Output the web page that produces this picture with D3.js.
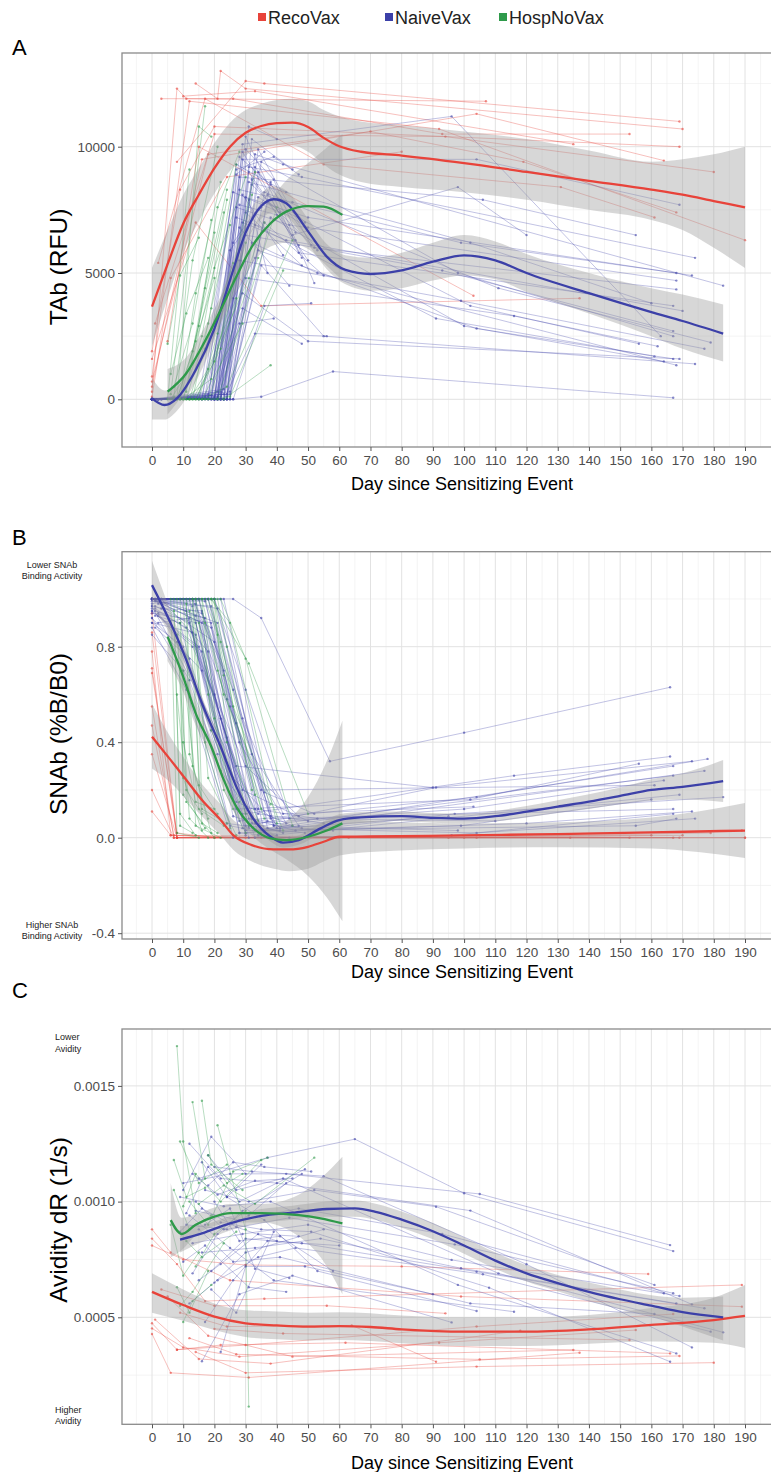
<!DOCTYPE html>
<html>
<head>
<meta charset="utf-8">
<script src="https://cdn.jsdelivr.net/npm/d3@7"></script>
<style>
  body { margin: 0; background: #fff; }
  text { font-family: "Liberation Sans", Arial, sans-serif; }
</style>
</head>
<body>
<svg id="chart" width="771" height="1472"></svg>
<script>
// groups and colours
const groups = ["RecoVax", "NaiveVax", "HospNoVax"];
const groupColors = ["#E8433A", "#3C40A8", "#2E9A4A"];
const dayTicks = [0, 10, 20, 30, 40, 50, 60, 70, 80, 90, 100, 110, 120, 130, 140, 150, 160, 170, 180, 190];

// ---------- Panel A : TAb (RFU) ----------
const tabTicks = [0, 5000, 10000];
const tabMinor = [-2500, 2500, 7500, 12500];

const tabReco = [
  [[0,1900],[9,8300],[20,10800],[169,10000]],
  [[0,300],[8,12300],[11,11900],[107,11800]],
  [[8,9400],[30,12600],[36,12500],[169,11000]],
  [[14,12500],[21,11900],[22,13000],[30,12300],[170,10700]],
  [[3,11900],[26,11900],[93,10500],[153,10500]],
  [[10,12000],[33,12200],[135,10100]],
  [[0,900],[12,11800],[92,10700],[190,6300]],
  [[0,500],[16,9500],[104,11300],[164,9450]],
  [[1,3000],[20,10500],[94,10400],[180,9000]],
  [[0,1600],[14,7000],[35,3700],[137,4000]],
  [[0,700],[18,9700],[70,10600],[119,9400],[168,7400]],
  [[2,5400],[17,11900],[55,9300],[131,8400],[161,7200]],
  [[0,100],[6,4800],[24,8800],[80,9800]],
  [[5,2300],[15,10000],[103,4100]]
];
const tabNaive = [
  [[0,0],[21,100],[29,10100],[96,11200],[163,2500]],
  [[1,0],[22,200],[29,9500],[104,9500],[169,7700]],
  [[0,50],[20,0],[28,8800],[106,7900],[155,6500]],
  [[2,0],[21,300],[31,9200],[48,8800],[174,5600]],
  [[0,0],[18,100],[28,8300],[45,7800],[99,6200],[168,5000]],
  [[3,0],[20,0],[30,8000],[50,7200],[173,4900]],
  [[0,0],[22,0],[33,9700],[42,9300],[183,4500]],
  [[1,0],[19,150],[27,7600],[44,6900],[168,4700]],
  [[0,0],[23,400],[32,8500],[52,6000],[168,4350]],
  [[2,0],[24,200],[34,9000],[47,5800],[167,3700]],
  [[0,0],[21,0],[29,7000],[43,6300],[170,3500]],
  [[0,0],[22,100],[31,8600],[102,6200],[160,3800]],
  [[1,0],[20,50],[30,6500],[93,5100],[167,2700]],
  [[0,0],[23,0],[35,9400],[98,5000],[167,2500]],
  [[3,0],[25,300],[36,8200],[111,4400],[179,2250]],
  [[0,0],[21,0],[28,5500],[99,3900],[177,2000]],
  [[2,0],[24,100],[37,7800],[102,3700],[156,2200]],
  [[0,0],[20,0],[30,4800],[116,3300],[162,2100]],
  [[1,0],[22,0],[33,6900],[91,3200],[161,1700]],
  [[0,0],[25,200],[38,7200],[100,2900],[164,1500]],
  [[2,0],[23,0],[34,5900],[104,2800],[167,1600]],
  [[0,0],[21,50],[32,6200],[53,5000],[168,1350]],
  [[1,0],[24,0],[35,5300],[55,2500],[174,1400]],
  [[0,0],[22,0],[29,4200],[50,2300],[169,1600]],
  [[0,0],[20,0],[26,0],[35,100],[58,1100],[167,60]],
  [[0,0],[18,0],[29,9800],[45,6500],[98,8400],[120,6500]],
  [[1,0],[20,0],[30,10400],[48,5600]],
  [[0,0],[22,300],[31,9000],[50,5500]],
  [[2,0],[23,0],[32,8700],[47,6100]],
  [[0,0],[21,0],[33,9200],[53,5900]],
  [[0,0],[19,0],[27,7200],[46,6300]],
  [[1,0],[24,0],[34,9900],[51,6100]],
  [[0,0],[17,0],[28,6800],[44,4500]],
  [[0,0],[22,0],[36,7000],[55,4900]],
  [[2,0],[25,0],[38,8600],[52,4600]],
  [[0,0],[20,0],[29,3600],[48,2200]],
  [[1,0],[23,0],[33,2600],[56,2500]],
  [[0,0],[26,0],[36,3700],[51,3800]],
  [[0,0],[16,0],[27,9100],[39,9600],[47,8900]],
  [[1,0],[24,0],[31,10800],[40,10300]],
  [[0,0],[15,0],[26,8200],[41,7400]],
  [[2,0],[17,100],[27,9300],[43,8200]],
  [[0,0],[19,0],[28,9600],[38,8500],[49,7000]],
  [[1,0],[18,200],[26,6200],[37,8100]],
  [[0,0],[21,0],[27,8900],[36,9800]],
  [[3,0],[23,0],[30,9900],[39,8700],[46,6600]],
  [[0,0],[20,100],[28,7700],[40,7300]],
  [[1,0],[24,0],[32,10300],[45,9100]],
  [[0,0],[16,0],[25,5900],[35,7600]],
  [[2,0],[22,0],[29,8100],[42,5700]],
  [[0,0],[25,0],[34,8000],[50,6800]],
  [[1,0],[19,0],[30,7400],[48,5300]],
  [[0,0],[23,200],[31,7900],[37,5000]],
  [[0,0],[18,0],[26,4000],[33,5600]],
  [[2,0],[21,0],[28,3000],[39,3200]]
];
const tabHosp = [
  [[5,0],[12,9100]],
  [[6,200],[17,11600]],
  [[8,0],[15,10800],[19,10400]],
  [[7,100],[13,5500],[21,10000]],
  [[9,0],[14,4200],[22,8600]],
  [[10,0],[16,2500],[24,7900]],
  [[6,0],[12,1200],[20,6600]],
  [[11,0],[18,3000],[27,9300]],
  [[8,0],[13,1900],[23,7400]],
  [[12,0],[17,2000],[26,5400]],
  [[13,0],[20,1500],[30,6200]],
  [[10,0],[19,800],[32,8100]],
  [[14,0],[22,2000],[36,7000]],
  [[15,0],[23,0],[38,1350]],
  [[16,0],[24,500],[45,6300]],
  [[12,0],[21,0],[40,7600]],
  [[9,0],[18,0],[34,5600]],
  [[11,0],[16,0],[29,3000]],
  [[7,0],[14,0],[31,4800]],
  [[17,0],[25,100],[42,5100]],
  [[5,2200],[9,4900],[15,6400]],
  [[6,1000],[11,3400],[18,5600]],
  [[9,0],[15,2900],[21,7600],[28,9800]],
  [[11,300],[17,4400],[24,8300]],
  [[13,0],[19,3600],[25,6900]],
  [[8,0],[14,2300],[20,4800]],
  [[12,0],[18,1200],[27,4000]],
  [[15,0],[21,2600],[33,9000]],
  [[10,0],[20,5200],[30,8800]],
  [[7,500],[13,3000],[19,7100]]
];
// smooth fits: [day, fit, lower, upper]
const tabFitReco = [
  [0,3670,2100,5200],[5,5350,4000,6700],[10,6950,5800,8100],[15,8100,7050,9150],
  [20,9150,8150,10150],[25,10000,9050,10950],[30,10550,9650,11450],[35,10820,9950,11700],
  [40,10930,10050,11850],[45,10950,10050,11900],[50,10780,9800,11800],[55,10350,9300,11450],
  [60,10020,8900,11200],[67,9800,8600,11000],[80,9650,8400,10850],[100,9350,8200,10600],
  [120,9000,7900,10300],[140,8650,7500,9850],[160,8300,7100,9400],[170,8100,6700,9500],
  [180,7850,6000,9700],[190,7600,5200,10000]
];
const tabFitNaive = [
  [0,40,-800,850],[4,-225,-800,350],[8,40,-450,530],[14,1160,700,1620],[20,2800,2350,3250],
  [25,4720,4280,5160],[30,6600,6150,7050],[35,7650,7150,8150],[39,7920,7400,8440],
  [43,7760,7250,8270],[50,6650,6150,7150],[56,5650,5150,6150],[62,5120,4550,5700],
  [70,4960,4300,5600],[80,5100,4400,5800],[90,5450,4700,6200],[100,5700,4900,6500],
  [110,5500,4750,6250],[120,5000,4250,5750],[140,4200,3400,5000],[160,3450,2500,4400],
  [170,3100,2000,4150],[183,2600,1500,3750]
];
const tabFitHosp = [
  [5,300,-600,1200],[11,1030,400,1660],[16,2080,1500,2660],[22,3540,3000,4080],
  [27,4850,4250,5450],[32,6040,5350,6730],[38,6970,6050,7890],[43,7430,6200,8660],
  [50,7650,5950,9350],[55,7630,5400,9860],[61,7300,4700,10500]
];

// ---------- Panel B : SNAb (%B/B0) ----------
const snabTicks = [-0.4, 0, 0.4, 0.8];
const snabMinor = [-0.2, 0.2, 0.6, 1.0];

const snabReco = [
  [[0,0.86],[8,0.0],[40,0.0],[104,0.0],[169,0.0]],
  [[0,0.78],[6,0.01],[30,0.0],[134,0.0]],
  [[0,0.71],[8,0.0],[60,0.0],[190,0.0]],
  [[0,0.55],[7,0.0],[95,0.0],[179,0.02]],
  [[0,0.69],[8,0.02],[20,0.0],[105,0.01],[189,0.03]],
  [[0,0.11],[6,0.01],[35,0.0],[160,0.01]],
  [[0,0.94],[8,0.0],[50,0.0],[167,0.0]],
  [[0,0.47],[7,0.01],[100,0.0],[170,0.01]],
  [[0,0.35],[8,0.0],[28,0.0],[153,0.0]],
  [[0,0.2],[7,0.0],[63,0.0],[190,0.0]]
];
const snabNaive = [
  [[0,1.0],[26,1.0],[35,0.92],[57,0.32],[100,0.44],[166,0.63]],
  [[0,1.0],[12,1.0],[30,0.1],[116,0.26],[166,0.34]],
  [[1,0.95],[14,0.9],[31,0.05],[91,0.21],[173,0.32]],
  [[0,0.98],[11,1.0],[28,0.07],[104,0.17],[178,0.33]],
  [[2,0.93],[15,0.8],[33,0.03],[167,0.3]],
  [[0,1.0],[10,1.0],[27,0.12],[102,0.16],[156,0.31]],
  [[0,0.9],[13,0.86],[30,0.02],[177,0.28]],
  [[3,0.96],[16,0.95],[32,0.06],[100,0.12],[164,0.24]],
  [[0,1.0],[18,1.0],[35,0.2],[161,0.22]],
  [[1,0.88],[12,0.75],[29,0.04],[167,0.26]],
  [[0,0.97],[17,0.92],[34,0.01],[97,0.1],[183,0.17]],
  [[2,1.0],[14,1.0],[31,0.0],[169,0.18]],
  [[0,0.94],[19,0.9],[36,0.03],[99,0.05],[160,0.16]],
  [[0,1.0],[20,1.0],[38,0.08],[167,0.12]],
  [[1,0.99],[13,0.97],[28,0.02],[120,0.06],[173,0.11]],
  [[0,0.92],[16,0.7],[33,0.0],[96,0.01],[167,0.1]],
  [[3,1.0],[22,1.0],[37,0.04],[104,0.02],[174,0.08]],
  [[0,1.0],[15,1.0],[30,0.03],[155,0.05],[168,0.08]],
  [[0,1.0],[13,1.0],[27,0.3],[90,0.21]],
  [[0,1.0],[11,0.95],[27,0.15],[45,0.05]],
  [[1,0.96],[14,0.85],[29,0.2],[50,0.07]],
  [[0,1.0],[17,1.0],[32,0.08],[48,0.04]],
  [[2,0.9],[12,0.92],[26,0.09],[42,0.02]],
  [[0,1.0],[19,0.88],[34,0.1],[55,0.06]],
  [[0,0.95],[13,0.8],[30,0.3],[47,0.09]],
  [[1,1.0],[21,0.96],[36,0.19],[52,0.1]],
  [[0,0.85],[10,0.7],[25,0.05],[40,0.01]],
  [[0,1.0],[16,0.9],[28,0.02],[44,0.0]],
  [[3,1.0],[18,0.78],[31,0.04],[49,0.02]],
  [[0,0.88],[11,0.62],[24,0.06],[41,0.03]],
  [[2,0.98],[23,1.0],[39,0.05],[58,0.03]],
  [[0,1.0],[14,0.98],[30,0.01]],
  [[1,0.93],[9,0.9],[26,0.0]],
  [[0,1.0],[20,0.82],[35,0.02]],
  [[0,0.97],[15,0.6],[33,0.12],[53,0.08]],
  [[0,1.0],[9,1.0],[22,0.5],[33,0.06]],
  [[1,0.97],[12,0.9],[24,0.42],[35,0.04]],
  [[0,1.0],[15,1.0],[25,0.55],[37,0.07]],
  [[2,0.94],[10,0.8],[21,0.35],[30,0.05]],
  [[0,1.0],[16,0.94],[26,0.62],[38,0.09]],
  [[0,0.9],[8,0.82],[19,0.45],[29,0.1]],
  [[1,1.0],[13,1.0],[23,0.7],[34,0.12]],
  [[0,0.96],[11,0.88],[20,0.6],[31,0.08],[46,0.03]],
  [[3,1.0],[17,0.99],[27,0.48],[40,0.04]],
  [[0,1.0],[18,1.0],[28,0.4],[43,0.06]],
  [[0,0.92],[12,0.66],[22,0.28],[36,0.02]],
  [[2,1.0],[14,0.93],[24,0.58],[39,0.05],[98,0.03]],
  [[0,0.99],[19,0.97],[29,0.5],[42,0.1],[103,0.13]],
  [[1,1.0],[20,1.0],[30,0.62],[44,0.08],[110,0.07]],
  [[0,1.0],[21,0.9],[32,0.35],[47,0.05]],
  [[0,0.95],[16,0.78],[26,0.25],[41,0.04],[95,0.09]]
];
const snabHosp = [
  [[6,1.0],[8,0.02],[15,0.0]],
  [[7,0.95],[9,0.1],[14,0.01]],
  [[8,1.0],[10,0.25],[16,0.03]],
  [[9,1.0],[11,0.15],[20,0.0]],
  [[10,1.0],[13,0.3],[19,0.02]],
  [[11,0.98],[14,0.05],[22,0.0]],
  [[12,1.0],[17,0.4],[25,0.04]],
  [[13,1.0],[18,0.25],[27,0.01]],
  [[14,1.0],[20,0.5],[31,0.05]],
  [[15,1.0],[21,0.7],[36,0.08]],
  [[16,1.0],[23,0.6],[38,0.14]],
  [[18,1.0],[22,0.82],[35,0.12]],
  [[19,1.0],[25,0.9],[40,0.06]],
  [[20,1.0],[26,0.55],[42,0.03]],
  [[21,1.0],[24,0.8],[33,0.18]],
  [[22,1.0],[30,0.75],[45,0.05]],
  [[17,0.9],[23,0.2],[30,0.02]],
  [[8,0.85],[12,0.08],[18,0.0]],
  [[10,0.7],[15,0.12],[23,0.05]],
  [[12,0.95],[16,0.06],[21,0.02]],
  [[19,1.0],[31,0.73],[50,0.1]],
  [[7,1.0],[9,0.05],[13,0.02]],
  [[9,0.9],[10,0.18],[17,0.04]],
  [[11,1.0],[12,0.35],[18,0.08]],
  [[13,1.0],[15,0.22],[21,0.1]],
  [[14,1.0],[16,0.12],[24,0.06]],
  [[15,0.9],[18,0.6],[26,0.12]],
  [[16,1.0],[19,0.45],[28,0.15]],
  [[17,1.0],[21,0.85],[32,0.2]],
  [[19,1.0],[23,0.68],[30,0.1]],
  [[20,1.0],[24,0.4],[34,0.07]],
  [[8,0.6],[11,0.2],[16,0.1]],
  [[10,0.4],[14,0.15],[20,0.12]]
];
const snabFitReco = [
  [0,0.423,0.29,0.56],[6,0.325,0.23,0.42],[11,0.242,0.16,0.32],[16,0.158,0.09,0.225],
  [22,0.074,0.01,0.14],[26,0.011,-0.05,0.075],[32,-0.031,-0.1,0.04],[39,-0.049,-0.13,0.035],
  [44,-0.049,-0.14,0.04],[50,-0.038,-0.13,0.05],[55,-0.017,-0.1,0.065],[60,0.004,-0.075,0.08],
  [70,0.005,-0.06,0.07],[100,0.01,-0.045,0.06],[130,0.015,-0.04,0.065],
  [160,0.022,-0.045,0.085],[175,0.026,-0.06,0.11],[190,0.03,-0.085,0.145]
];
const snabFitNaive = [
  [0,1.058,0.96,1.16],[6,0.898,0.85,0.946],[11,0.744,0.71,0.778],[16,0.563,0.535,0.591],
  [22,0.381,0.355,0.407],[27,0.214,0.19,0.238],[32,0.088,0.065,0.111],[38,0.004,-0.017,0.025],
  [42,-0.021,-0.041,-0.001],[47,-0.01,-0.03,0.01],[54,0.039,0.017,0.061],[60,0.074,0.05,0.098],
  [67,0.085,0.062,0.108],[80,0.09,0.07,0.11],[90,0.083,0.063,0.103],
  [100,0.08,0.06,0.1],[110,0.09,0.068,0.112],[120,0.109,0.085,0.133],[130,0.13,0.103,0.157],
  [140,0.151,0.12,0.182],[150,0.175,0.14,0.21],[160,0.2,0.155,0.245],[170,0.213,0.16,0.27],
  [183,0.237,0.15,0.325]
];
const snabFitHosp = [
  [5,0.842,0.74,0.94],[10,0.674,0.61,0.74],[14,0.521,0.47,0.57],[19,0.381,0.34,0.42],
  [23,0.242,0.2,0.284],[27,0.13,0.09,0.17],[32,0.046,0.01,0.085],[38,-0.003,-0.05,0.045],
  [43,-0.01,-0.09,0.07],[50,0.004,-0.16,0.17],[56,0.03,-0.25,0.32],[61,0.06,-0.35,0.49]
];

// ---------- Panel C : Avidity dR (1/s) ----------
const avidTicks = [0.0005, 0.0010, 0.0015];
const avidMinor = [0.00025, 0.00075, 0.00125];

const avidReco = [
  [[0,8.4e-4],[8,7.3e-4],[17,5.7e-4],[36,5.8e-4],[189,6.4e-4]],
  [[0,8.1e-4],[10,7.5e-4],[30,7.26e-4],[80,7.2e-4],[159,6.87e-4]],
  [[0,8.8e-4],[6,7.8e-4],[25,6.6e-4],[99,5.9e-4],[189,5.46e-4]],
  [[0,4.74e-4],[8,3.6e-4],[30,3.8e-4],[104,4.6e-4],[167,5.14e-4]],
  [[0,4.52e-4],[10,3.7e-4],[28,3.3e-4],[92,3.9e-4],[155,4.45e-4]],
  [[0,4.28e-4],[6,2.6e-4],[31,2.4e-4],[137,3.47e-4]],
  [[1,4.9e-4],[15,3.2e-4],[38,3.0e-4],[118,4.42e-4]],
  [[5,5.9e-4],[18,4.2e-4],[45,3.3e-4],[135,3.59e-4]],
  [[8,3.6e-4],[22,3.8e-4],[62,3.9e-4],[166,3.44e-4]],
  [[12,4.1e-4],[27,3.4e-4],[105,3.18e-4],[169,3.33e-4]],
  [[3,6.2e-4],[20,5.5e-4],[56,5.5e-4],[94,5.17e-4]],
  [[14,3.5e-4],[30,2.6e-4],[104,2.87e-4],[180,3.04e-4]],
  [[20,4.5e-4],[42,4.3e-4],[153,4.02e-4]],
  [[9,5.2e-4],[24,4.6e-4],[64,4.65e-4],[91,3.08e-4]]
];
const avidNaive = [
  [[15,1.10e-3],[37,1.19e-3],[65,1.27e-3],[100,1.036e-3],[167,7.86e-4]],
  [[10,1.08e-3],[25,1.12e-3],[43,1.12e-3],[105,1.033e-3],[166,8.12e-4]],
  [[12,1.25e-3],[22,1.1e-3],[40,1.08e-3],[102,9.61e-4],[173,5.56e-4]],
  [[17,1.05e-3],[31,1.0e-3],[52,1.05e-3],[91,9.78e-4],[161,6.4e-4]],
  [[14,9.6e-4],[28,9.2e-4],[47,9.7e-4],[93,8.6e-4],[164,6.04e-4]],
  [[11,9.0e-4],[24,8.8e-4],[44,9.3e-4],[97,8.15e-4],[167,6.04e-4]],
  [[13,8.2e-4],[29,8.6e-4],[50,9.0e-4],[96,7.48e-4],[169,5.92e-4]],
  [[16,7.8e-4],[33,8.0e-4],[54,8.4e-4],[99,7.12e-4],[168,5.6e-4]],
  [[19,7.0e-4],[30,8.4e-4],[48,8.2e-4],[104,6.97e-4],[177,5.39e-4]],
  [[21,6.6e-4],[34,7.6e-4],[46,8.0e-4],[106,6.86e-4],[179,4.38e-4]],
  [[18,1.2e-3],[27,1.05e-3],[42,1.1e-3],[111,6.9e-4],[183,4.35e-4]],
  [[20,1.15e-3],[32,1.13e-3],[55,1.11e-3],[120,7.29e-4],[173,3.7e-4]],
  [[9,1.02e-3],[23,9.8e-4],[38,1.0e-3],[98,6.4e-4],[168,3.44e-4]],
  [[22,9.1e-4],[35,8.8e-4],[51,8.7e-4],[108,6.28e-4],[166,3.08e-4]],
  [[15,8.8e-4],[26,7.4e-4],[41,7.6e-4],[102,5.6e-4],[161,5.14e-4]],
  [[24,1.02e-3],[36,9.2e-4],[53,7.0e-4],[104,5.27e-4]],
  [[12,9.4e-4],[25,8.0e-4],[39,6.6e-4],[116,5.24e-4]],
  [[16,3.1e-4],[28,6.0e-4],[45,6.8e-4],[96,4.78e-4]],
  [[22,3.5e-4],[30,7.2e-4],[49,7.2e-4],[90,6.0e-4]],
  [[17,4.8e-4],[26,6.6e-4],[37,8.3e-4],[60,8.1e-4]],
  [[10,1.05e-3],[19,1.28e-3],[30,1.12e-3]],
  [[13,1.12e-3],[21,1.03e-3],[33,1.09e-3],[45,1.1e-3]],
  [[11,9.5e-4],[18,1.15e-3],[28,1.0e-3],[49,1.14e-3]],
  [[14,1.0e-3],[23,8.8e-4],[31,9.4e-4],[43,1.08e-3]],
  [[9,8.7e-4],[16,9.7e-4],[27,8.9e-4],[40,8.3e-4]],
  [[15,6.6e-4],[22,7.3e-4],[34,8.6e-4],[47,8.5e-4]],
  [[12,5.6e-4],[20,6.5e-4],[30,7.8e-4],[55,8.8e-4]],
  [[18,1.07e-3],[26,1.17e-3],[36,1.15e-3],[51,1.13e-3]],
  [[20,1.0e-3],[28,8.3e-4],[41,8.5e-4],[58,7.0e-4]],
  [[16,1.17e-3],[24,1.02e-3],[35,1.16e-3]],
  [[17,9.0e-4],[25,9.7e-4],[33,7.1e-4],[44,6.7e-4]],
  [[13,6.9e-4],[21,8.6e-4],[29,9.6e-4],[48,1.12e-3]],
  [[19,6.2e-4],[27,5.2e-4],[39,8.7e-4]],
  [[10,7.4e-4],[17,8.1e-4],[31,6.3e-4],[43,6.1e-4]]
];
const avidHosp = [
  [[8,1.672e-3],[10,1.26e-3],[14,9.5e-4]],
  [[16,1.436e-3],[19,1.16e-3],[29,1.05e-3]],
  [[13,1.43e-3],[17,1.1e-3]],
  [[21,1.33e-3],[30,8.8e-4],[31,1.14e-4]],
  [[9,1.26e-3],[15,1.08e-3],[24,1.16e-3]],
  [[7,1.05e-3],[12,8.8e-4],[19,9.4e-4]],
  [[10,9.8e-4],[14,1.12e-3],[22,1.0e-3],[35,1.18e-3]],
  [[11,8.3e-4],[16,7.6e-4],[27,8.7e-4]],
  [[6,9.0e-4],[10,6.8e-4],[15,7.8e-4]],
  [[8,6.3e-4],[12,5.2e-4],[18,7.0e-4]],
  [[9,5.5e-4],[13,6.1e-4],[23,8.2e-4]],
  [[12,1.0e-3],[18,9.0e-4],[26,1.13e-3],[37,1.19e-3]],
  [[14,7.2e-4],[20,8.6e-4],[30,9.6e-4]],
  [[15,9.9e-4],[23,1.07e-3],[33,9.9e-4],[52,1.19e-3]],
  [[7,1.18e-3],[11,1.02e-3],[17,1.06e-3]],
  [[10,4.8e-4],[13,5.7e-4],[19,6.4e-4]],
  [[18,1.2e-3],[24,1.08e-3],[29,1.12e-3]]
];
const avidFitReco = [
  [0,6.1e-4,5.2e-4,6.9e-4],[10,5.53e-4,4.85e-4,6.2e-4],[20,5.03e-4,4.45e-4,5.6e-4],
  [30,4.74e-4,4.15e-4,5.3e-4],[40,4.65e-4,4.05e-4,5.25e-4],[50,4.6e-4,4.0e-4,5.2e-4],
  [60,4.62e-4,4.02e-4,5.22e-4],[70,4.58e-4,3.98e-4,5.18e-4],[80,4.48e-4,3.88e-4,5.08e-4],
  [100,4.38e-4,3.76e-4,5.0e-4],[120,4.38e-4,3.76e-4,5.0e-4],[140,4.48e-4,3.86e-4,5.1e-4],
  [160,4.67e-4,3.95e-4,5.4e-4],[180,4.88e-4,3.9e-4,5.85e-4],[190,5.06e-4,3.67e-4,6.4e-4]
];
const avidFitNaive = [
  [9,8.36e-4,7.8e-4,8.95e-4],[16,8.63e-4,8.25e-4,9.0e-4],[25,9.06e-4,8.75e-4,9.37e-4],
  [35,9.38e-4,9.08e-4,9.68e-4],[45,9.52e-4,9.22e-4,9.82e-4],[56,9.68e-4,9.35e-4,1.0e-3],
  [65,9.71e-4,9.35e-4,1.005e-3],[72,9.55e-4,9.2e-4,9.9e-4],
  [80,9.22e-4,8.87e-4,9.57e-4],[90,8.72e-4,8.37e-4,9.07e-4],[100,8.1e-4,7.75e-4,8.45e-4],
  [110,7.45e-4,7.1e-4,7.8e-4],[120,6.9e-4,6.55e-4,7.25e-4],[130,6.48e-4,6.13e-4,6.83e-4],
  [140,6.1e-4,5.7e-4,6.5e-4],[150,5.78e-4,5.35e-4,6.2e-4],[160,5.5e-4,5.05e-4,5.95e-4],
  [170,5.22e-4,4.6e-4,5.85e-4],[183,5.0e-4,4.0e-4,5.9e-4]
];
const avidFitHosp = [
  [6,9.2e-4,7.6e-4,1.08e-3],[9.5,8.6e-4,7.9e-4,9.3e-4],[14,9.0e-4,8.55e-4,9.45e-4],
  [20,9.35e-4,8.95e-4,9.75e-4],[25,9.5e-4,9.1e-4,9.9e-4],[35,9.5e-4,9.1e-4,9.9e-4],
  [47,9.42e-4,8.5e-4,1.03e-3],[54,9.28e-4,7.6e-4,1.1e-3],[61,9.06e-4,6.0e-4,1.194e-3]
];

const svg = d3.select("#chart");
const panelLeft = 122, panelRight = 803;

// shared x scale: day -> px
const x = d3.scaleLinear().domain([0, 190]).range([152, 745]);

function drawPanel(cfg) {
  const y = d3.scaleLinear().domain(cfg.yRef).range(cfg.yPix);
  const g = svg.append("g");

  const clipId = "clip" + cfg.letter;
  svg.append("clipPath").attr("id", clipId).append("rect")
    .attr("x", panelLeft).attr("y", cfg.top)
    .attr("width", panelRight - panelLeft).attr("height", cfg.bottom - cfg.top);

  const plot = g.append("g").attr("clip-path", "url(#" + clipId + ")");

  // grid
  plot.selectAll(".vminor").data(d3.range(-5, 206, 10)).enter().append("line")
    .attr("x1", d => x(d)).attr("x2", d => x(d))
    .attr("y1", cfg.top).attr("y2", cfg.bottom)
    .attr("stroke", "#EDEDED").attr("stroke-width", 0.6);
  plot.selectAll(".hminor").data(cfg.yMinor).enter().append("line")
    .attr("x1", panelLeft).attr("x2", panelRight)
    .attr("y1", d => y(d)).attr("y2", d => y(d))
    .attr("stroke", "#EDEDED").attr("stroke-width", 0.6);
  plot.selectAll(".vmajor").data(d3.range(0, 201, 10)).enter().append("line")
    .attr("x1", d => x(d)).attr("x2", d => x(d))
    .attr("y1", cfg.top).attr("y2", cfg.bottom)
    .attr("stroke", "#E2E2E2").attr("stroke-width", 1);
  plot.selectAll(".hmajor").data(cfg.yTicks).enter().append("line")
    .attr("x1", panelLeft).attr("x2", panelRight)
    .attr("y1", d => y(d)).attr("y2", d => y(d))
    .attr("stroke", "#E2E2E2").attr("stroke-width", 1);

  const line = d3.line().x(d => x(d[0])).y(d => y(d[1]));

  // subject trajectories
  cfg.subjects.forEach((subs, gi) => {
    const col = groupColors[gi];
    const sg = plot.append("g");
    sg.selectAll("path").data(subs).enter().append("path")
      .attr("d", line)
      .attr("fill", "none")
      .attr("stroke", col)
      .attr("stroke-opacity", gi === 1 ? 0.42 : 0.45)
      .attr("stroke-width", 0.75);
    sg.selectAll("circle").data(subs.flat()).enter().append("circle")
      .attr("cx", d => x(d[0])).attr("cy", d => y(d[1]))
      .attr("r", 1.2)
      .attr("fill", col).attr("fill-opacity", 0.6);
  });

  // confidence bands
  const area = d3.area().curve(d3.curveMonotoneX)
    .x(d => x(d[0])).y0(d => y(d[2])).y1(d => y(d[3]));
  cfg.fits.forEach(f => {
    plot.append("path").attr("d", area(f))
      .attr("fill", "#9A9A9A").attr("fill-opacity", 0.4);
  });

  // smooth lines
  const fitLine = d3.line().curve(d3.curveMonotoneX)
    .x(d => x(d[0])).y(d => y(d[1]));
  cfg.fits.forEach((f, gi) => {
    plot.append("path").attr("d", fitLine(f))
      .attr("fill", "none")
      .attr("stroke", groupColors[gi])
      .attr("stroke-width", 2.3);
  });

  // border
  g.append("rect")
    .attr("x", panelLeft).attr("y", cfg.top)
    .attr("width", panelRight - panelLeft).attr("height", cfg.bottom - cfg.top)
    .attr("fill", "none").attr("stroke", "#8A8A8A").attr("stroke-width", 1.3);

  // axes
  const yAxis = g.append("g").attr("transform", "translate(" + panelLeft + ",0)")
    .call(d3.axisLeft(y).tickValues(cfg.yTicks).tickFormat(cfg.fmt).tickSize(4).tickPadding(3));
  const xAxis = g.append("g").attr("transform", "translate(0," + cfg.bottom + ")")
    .call(d3.axisBottom(x).tickValues(dayTicks).tickFormat(d3.format("d")).tickSize(4).tickPadding(4));
  [yAxis, xAxis].forEach(a => {
    a.select(".domain").remove();
    a.selectAll(".tick line").attr("stroke", "#555");
    a.selectAll(".tick text").attr("fill", "#4D4D4D")
      .style("font-size", "13.5px")
      .style("font-family", "'Liberation Sans', Arial, sans-serif");
  });

  // axis titles
  g.append("text")
    .attr("x", 462).attr("y", cfg.xTitleY)
    .attr("text-anchor", "middle")
    .style("font-size", "18px")
    .text("Day since Sensitizing Event");
  g.append("text")
    .attr("transform", "translate(67," + cfg.yTitleY + ") rotate(-90)")
    .attr("text-anchor", "middle")
    .style("font-size", "24.5px")
    .text(cfg.yTitle);

  // panel letter
  g.append("text").attr("x", 12).attr("y", cfg.letterY)
    .style("font-size", "22px").text(cfg.letter);

  // side notes
  (cfg.notes || []).forEach(n => {
    g.append("text").attr("x", n.x).attr("y", n.y)
      .attr("text-anchor", n.anchor)
      .style("font-size", "9px").attr("fill", "#222")
      .text(n.text);
  });
}

// legend
const legendX = [258, 385, 499];
groups.forEach((name, i) => {
  svg.append("rect").attr("x", legendX[i]).attr("y", 13)
    .attr("width", 8).attr("height", 8).attr("fill", groupColors[i]);
  svg.append("text").attr("x", legendX[i] + 10).attr("y", 24)
    .style("font-size", "18px").attr("fill", "#222").text(name);
});

drawPanel({
  letter: "A", letterY: 55, top: 53, bottom: 447,
  yRef: [0, 10000], yPix: [399.3, 146.7],
  yTicks: tabTicks, yMinor: tabMinor, fmt: d3.format("d"),
  yTitle: "TAb (RFU)", yTitleY: 267, xTitleY: 490,
  subjects: [tabReco, tabNaive, tabHosp],
  fits: [tabFitReco, tabFitNaive, tabFitHosp]
});

drawPanel({
  letter: "B", letterY: 545, top: 551.7, bottom: 939,
  yRef: [0, 0.8], yPix: [837.7, 646.7],
  yTicks: snabTicks, yMinor: snabMinor, fmt: d => d3.format(".1f")(d).replace("\u2212", "-"),
  yTitle: "SNAb (%B/B0)", yTitleY: 734, xTitleY: 978,
  subjects: [snabReco, snabNaive, snabHosp],
  fits: [snabFitReco, snabFitNaive, snabFitHosp],
  notes: [
    { x: 52, y: 568, anchor: "middle", text: "Lower SNAb" },
    { x: 52, y: 579, anchor: "middle", text: "Binding Activity" },
    { x: 52, y: 928, anchor: "middle", text: "Higher SNAb" },
    { x: 52, y: 939, anchor: "middle", text: "Binding Activity" }
  ]
});

drawPanel({
  letter: "C", letterY: 998, top: 1029, bottom: 1424.3,
  yRef: [0.0005, 0.0010], yPix: [1317.3, 1201.6],
  yTicks: avidTicks, yMinor: avidMinor, fmt: d3.format(".4f"),
  yTitle: "Avidity dR (1/s)", yTitleY: 1220, xTitleY: 1469,
  subjects: [avidReco, avidNaive, avidHosp],
  fits: [avidFitReco, avidFitNaive, avidFitHosp],
  notes: [
    { x: 55, y: 1040, anchor: "start", text: "Lower" },
    { x: 55, y: 1052, anchor: "start", text: "Avidity" },
    { x: 55, y: 1413, anchor: "start", text: "Higher" },
    { x: 55, y: 1424, anchor: "start", text: "Avidity" }
  ]
});
</script>
</body>
</html>
